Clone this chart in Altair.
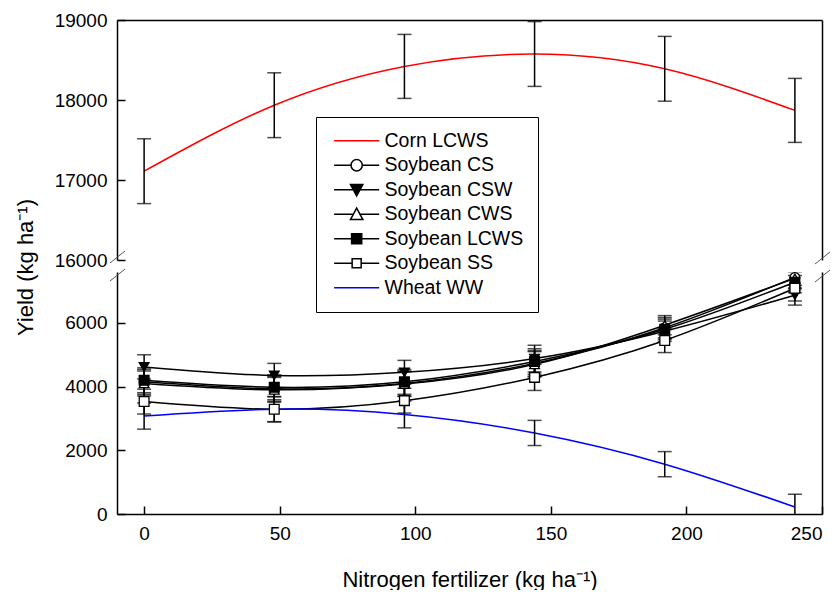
import altair as alt
import pandas as pd

FONT = "Liberation Sans"

# ---------------- data ----------------
n_rate = [0, 48, 96, 144, 192, 240]

series_names = ["Corn LCWS", "Soybean CS", "Soybean CSW", "Soybean CWS",
                "Soybean LCWS", "Soybean SS", "Wheat WW"]
soy_names = ["Soybean CS", "Soybean CSW", "Soybean CWS", "Soybean LCWS", "Soybean SS"]

corn_lcws = [17110, 17935, 18420, 18575, 18390, 17870]
corn_lcws_se = [405, 405, 400, 405, 405, 400]

soy_cs = [4150, 3930, 4100, 4730, 5850, 7430]
soy_cs_se = [390, 390, 390, 400, 320, 330]
soy_csw = [4620, 4350, 4450, 4880, 5740, 6870]
soy_csw_se = [380, 380, 375, 420, 320, 310]
soy_cws = [4100, 3900, 4080, 4700, 5930, 7400]
soy_cws_se = [390, 390, 390, 400, 300, 330]
soy_lcws = [4200, 3980, 4150, 4790, 5800, 7280]
soy_lcws_se = [390, 390, 390, 400, 320, 330]
soy_ss = [3530, 3290, 3560, 4290, 5450, 7090]
soy_ss_se = [390, 390, 390, 410, 380, 400]

wheat_ww = [3075, 3290, 3125, 2545, 1565, 220]
wheat_ww_se = [410, 400, 420, 395, 395, 400]

x_ticks = [0, 50, 100, 150, 200, 250]
upper_ticks = [16000, 17000, 18000, 19000]
lower_ticks = [0, 2000, 4000, 6000]


def long(name, vals, errs):
    return pd.DataFrame({
        "N": n_rate,
        "series": name,
        "yield": vals,
        "lo": [v - e for v, e in zip(vals, errs)],
        "hi": [v + e for v, e in zip(vals, errs)],
    })


corn_df = long("Corn LCWS", corn_lcws, corn_lcws_se)
low_df = pd.concat([
    long("Soybean CS", soy_cs, soy_cs_se),
    long("Soybean CSW", soy_csw, soy_csw_se),
    long("Soybean CWS", soy_cws, soy_cws_se),
    long("Soybean LCWS", soy_lcws, soy_lcws_se),
    long("Soybean SS", soy_ss, soy_ss_se),
    long("Wheat WW", wheat_ww, wheat_ww_se),
], ignore_index=True)
legend_df = pd.DataFrame({"series": series_names})

# ---------------- layout constants ----------------
W, HU, HL = 705, 240, 242

x_scale = alt.Scale(domain=[-10, 250], nice=False, zero=False)
up_scale = alt.Scale(domain=[16000, 19000], nice=False, zero=False)
lo_scale = alt.Scale(domain=[0, 7600], nice=False, zero=False)

no_axis = None
frame_axis_right = alt.Axis(orient="right", labels=False, ticks=False, domain=True, title=None, grid=False)
frame_axis_top = alt.Axis(orient="top", labels=False, ticks=False, domain=True, title=None, grid=False)


def inside_y_ticks(values):
    return alt.Axis(orient="right", offset=-W, labels=False, ticks=True, tickSize=8,
                    domain=False, title=None, grid=False, values=values)


# ---------------- upper panel (corn) ----------------
corn_line = alt.Chart(corn_df).mark_line(color="#ff0000", strokeWidth=1.5, interpolate="natural").encode(
    x=alt.X("N:Q", scale=x_scale, axis=frame_axis_top),
    y=alt.Y("yield:Q", scale=up_scale,
            axis=alt.Axis(orient="left", values=upper_ticks, ticks=False, tickSize=0, labelPadding=10,
                          title=None, grid=False, format="d", domain=True)),
)
corn_bar = alt.Chart(corn_df).mark_rule(color="black", strokeWidth=1.5).encode(
    x=alt.X("N:Q", scale=x_scale, axis=no_axis),
    y=alt.Y("lo:Q", scale=up_scale, axis=frame_axis_right),
    y2="hi:Q",
)
corn_caps = alt.Chart(corn_df).transform_fold(["lo", "hi"], as_=["end", "val"]).mark_tick(
    color="black", orient="horizontal", size=14, thickness=1.5).encode(
    x=alt.X("N:Q", scale=x_scale, axis=no_axis),
    y=alt.Y("val:Q", scale=up_scale, axis=inside_y_ticks(upper_ticks)),
)

legend_paths = [
    "M-1,0H7",
    "M-1,0H2M4,0H7M4,0A1,1,0,1,1,2,0A1,1,0,1,1,4,0Z",
    "M-1,0H7M1.9,-0.95L4.1,-0.95L3,1.1Z",
    "M-1,0H2.4M3.6,0H7M1.9,0.95L4.1,0.95L3,-1.1Z",
    "M-1,0H7M2.1,-0.9H3.9V0.9H2.1Z",
    "M-1,0H2.2M3.8,0H7M2.2,-0.8H3.8V0.8H2.2Z",
    "M-1,0H7",
]
leg = alt.Legend(title=None, orient="none", legendX=199, legendY=97,
                 strokeColor="black", fillColor="white", padding=14, cornerRadius=0,
                 labelFont=FONT, labelFontSize=19.5, labelColor="black",
                 symbolSize=127, symbolStrokeWidth=1.5, labelOffset=35, rowPadding=3.5,
                 symbolFillColor="white")
legend_layer = alt.Chart(legend_df).transform_filter("false").mark_point(
    filled=False, opacity=1, strokeWidth=1.5).encode(
    color=alt.Color("series:N", scale=alt.Scale(domain=series_names,
                    range=["#ff0000", "black", "black", "black", "black", "black", "#0000ff"]), legend=leg),
    fill=alt.Fill("series:N", scale=alt.Scale(domain=series_names,
                  range=["transparent", "white", "black", "white", "black", "white", "transparent"]), legend=leg),
    shape=alt.Shape("series:N", scale=alt.Scale(domain=series_names, range=legend_paths), legend=leg),
)

def brk(x1, x2, y1, y2):
    return alt.Chart(alt.Data(values=[{}])).mark_rule(color="#555555", strokeWidth=1).encode(
        x=alt.value(x1), x2=alt.value(x2), y=alt.value(y1), y2=alt.value(y2))

upper = alt.layer(
    corn_line, corn_bar, corn_caps, legend_layer,
    brk(-7, 8, HU + 3, HU - 9), brk(W - 7, W + 8, HU + 4, HU - 8),
).resolve_axis(x="independent", y="independent").properties(width=W, height=HU)

# ---------------- lower panel (soybean + wheat) ----------------
line_color = alt.Scale(domain=soy_names + ["Wheat WW"],
                       range=["black", "black", "black", "black", "black", "#0000ff"])
low_lines = alt.Chart(low_df).mark_line(strokeWidth=1.5, interpolate="natural").encode(
    x=alt.X("N:Q", scale=x_scale,
            axis=alt.Axis(orient="bottom", values=x_ticks, ticks=False, tickSize=0, labelPadding=10,
                          title="Nitrogen fertilizer (kg ha⁻¹)", titleY=72, titleBaseline="alphabetic",
                          grid=False, domain=True)),
    y=alt.Y("yield:Q", scale=lo_scale,
            axis=alt.Axis(orient="left", values=lower_ticks, ticks=False, tickSize=0, labelPadding=10,
                          title="Yield (kg ha⁻¹)", titleX=-85, titleY=-5, titleBaseline="alphabetic",
                          titleAngle=-90, titleAlign="center", grid=False, format="d", domain=True)),
    color=alt.Color("series:N", scale=line_color, legend=None),
    detail="series:N",
)
low_bars = alt.Chart(low_df).mark_rule(color="black", strokeWidth=1.5, clip=True).encode(
    x=alt.X("N:Q", scale=x_scale,
            axis=alt.Axis(orient="top", offset=-HL, labels=False, ticks=True, tickSize=8, domain=False,
                          title=None, grid=False, values=x_ticks)),
    y=alt.Y("lo:Q", scale=lo_scale, axis=frame_axis_right),
    y2="hi:Q",
)
low_caps = alt.Chart(low_df).transform_fold(["lo", "hi"], as_=["end", "val"]).mark_tick(
    color="black", orient="horizontal", size=14, thickness=1.5, clip=True).encode(
    x=alt.X("N:Q", scale=x_scale, axis=no_axis),
    y=alt.Y("val:Q", scale=lo_scale, axis=inside_y_ticks(lower_ticks)),
)
low_marks = alt.Chart(low_df).transform_filter(
    alt.FieldOneOfPredicate(field="series", oneOf=soy_names)).mark_point(
    opacity=1, stroke="black", strokeWidth=1.3, size=95).encode(
    x=alt.X("N:Q", scale=x_scale, axis=no_axis),
    y=alt.Y("yield:Q", scale=lo_scale, axis=no_axis),
    shape=alt.Shape("series:N", scale=alt.Scale(domain=soy_names,
                    range=["circle", "triangle-down", "triangle-up", "square", "square"]), legend=None),
    fill=alt.Fill("series:N", scale=alt.Scale(domain=soy_names,
                  range=["white", "black", "white", "black", "white"]), legend=None),
)

lower = alt.layer(
    low_lines, low_bars, low_caps, low_marks,
    brk(-7, 8, 9, -3), brk(W - 7, W + 8, 10, -2),
).resolve_axis(x="independent", y="independent").properties(width=W, height=HL)

chart = alt.vconcat(upper, lower, spacing=12, bounds="flush").resolve_scale(
    color="independent", fill="independent", shape="independent"
).properties(
    padding={"left": 5, "top": 3, "right": 0, "bottom": 0}
).configure_view(stroke=None).configure_axis(
    labelFont=FONT, titleFont=FONT, labelFontSize=19, titleFontSize=22,
    labelColor="black", titleColor="black", domainColor="black", tickColor="black",
    domainWidth=1.5, tickWidth=1.5, grid=False, titleFontWeight="normal",
)

chart.save("out.html", embed_options={"renderer": "svg", "actions": False})
